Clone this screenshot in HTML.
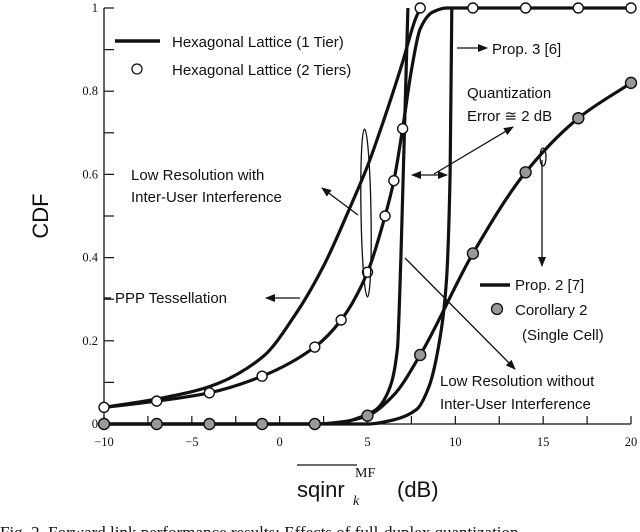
<!DOCTYPE html>
<html><head><meta charset="utf-8"><style>
html,body{margin:0;padding:0;background:#fff;}
body{width:640px;height:532px;overflow:hidden;position:relative;}
svg{position:absolute;left:0;top:0;}
.s{font-family:"Liberation Sans",sans-serif;font-size:15px;fill:#111;}
.t{font-family:"Liberation Serif",serif;font-size:12.5px;fill:#111;}
</style></head><body>
<svg id="chart" width="640" height="532" viewBox="0 0 640 532">
<defs><marker id="ah" markerWidth="10" markerHeight="8" refX="9" refY="4" orient="auto" markerUnits="userSpaceOnUse"><path d="M0,0 L10,4 L0,8 Z" fill="#111"/></marker>
<marker id="ahs" markerWidth="10" markerHeight="8" refX="1" refY="4" orient="auto" markerUnits="userSpaceOnUse"><path d="M10,0 L0,4 L10,8 Z" fill="#111"/></marker></defs>
<g id="axes"></g>
<g id="series"></g>
<g stroke="#111" stroke-width="1.3" fill="none">
<line x1="115" y1="41" x2="160" y2="41" stroke-width="3.5"/>
<circle cx="137" cy="69" r="5" fill="#fff"/>
<line x1="457" y1="48" x2="487" y2="48" marker-end="url(#ah)"/>
<line x1="434" y1="174" x2="513" y2="127" marker-end="url(#ah)"/>
<line x1="412" y1="175" x2="447" y2="175" marker-start="url(#ahs)" marker-end="url(#ah)"/>
<ellipse cx="366" cy="213" rx="5" ry="84" transform="rotate(-1 366 213)"/>
<line x1="358" y1="215" x2="322" y2="188" marker-end="url(#ah)"/>
<line x1="405" y1="258" x2="515" y2="369" marker-end="url(#ah)"/>
<line x1="300" y1="298" x2="266" y2="298" marker-end="url(#ah)"/>
<line x1="104" y1="298" x2="111" y2="298"/>
<ellipse cx="543" cy="157" rx="3" ry="9"/>
<line x1="542" y1="160" x2="542" y2="266" marker-end="url(#ah)"/>
<line x1="480" y1="285" x2="510" y2="285" stroke-width="3.5"/>
<circle cx="497" cy="309" r="5.5" fill="#999"/>
</g>
<g>
<text class="s" x="172" y="47">Hexagonal Lattice (1 Tier)</text>
<text class="s" x="172" y="75">Hexagonal Lattice (2 Tiers)</text>
<text class="s" x="492" y="54">Prop. 3 [6]</text>
<text class="s" x="467" y="98">Quantization</text>
<text class="s" x="467" y="121">Error ≅ 2 dB</text>
<text class="s" x="131" y="180">Low Resolution with</text>
<text class="s" x="131" y="202">Inter-User Interference</text>
<text class="s" x="115" y="303">PPP Tessellation</text>
<text class="s" x="515" y="290">Prop. 2 [7]</text>
<text class="s" x="515" y="315">Corollary 2</text>
<text class="s" x="522" y="340">(Single Cell)</text>
<text class="s" x="440" y="386">Low Resolution without</text>
<text class="s" x="440" y="409">Inter-User Interference</text>
<text x="0" y="0" transform="translate(48,216) rotate(-90)" text-anchor="middle" style="font-family:'Liberation Sans',sans-serif;font-size:22px;fill:#111">CDF</text>
<g>
<line x1="297" y1="465" x2="357" y2="465" stroke="#111" stroke-width="1.2"/>
<text x="297" y="497" style="font-family:'Liberation Sans',sans-serif;font-size:22px;fill:#111">sqinr</text>
<text x="353" y="505" style="font-family:'Liberation Serif',serif;font-style:italic;font-size:14px;fill:#111">k</text>
<text x="355" y="477" style="font-family:'Liberation Serif',serif;font-size:14px;fill:#111">MF</text>
<text x="397" y="497" style="font-family:'Liberation Sans',sans-serif;font-size:22px;fill:#111">(dB)</text>
</g>
<text x="0" y="538" style="font-family:'Liberation Serif',serif;font-size:17px;fill:#111">Fig. 2.  Forward link performance results: Effects of full-duplex quantization</text>
</g>
</svg>
<script>
const xTicks=[-10,-5,0,5,10,15,20];
const yTicks=[0,0.2,0.4,0.6,0.8,1];
const yTickLabels=["0","0.2","0.4","0.6","0.8","1"];
const pppX=[-10,-7,-4,-1,1,2.5,4,5,6,7,7.7,8];
const pppV=[0.04,0.06,0.09,0.16,0.27,0.38,0.52,0.62,0.74,0.87,0.97,1];
const hexX=[-10,-7,-4,-1,2,3.5,5,6,6.5,7,7.5,8,8.7,9.5,20];
const hexV=[0.04,0.055,0.075,0.115,0.185,0.25,0.365,0.5,0.585,0.71,0.85,0.95,0.99,1,1];
const lowResX=[-10,2,3.5,4.5,5.5,6.2,6.7,6.9,7.1,7.3];
const lowResV=[0,0,0.003,0.015,0.035,0.08,0.18,0.4,0.7,1];
const prop3X=[-10,5,6.5,7.8,8.5,9.1,9.5,9.7,9.8];
const prop3V=[0,0,0.01,0.035,0.09,0.2,0.35,0.6,1];
const prop2X=[-10,2,3.5,5,6.5,8,11,14,17,20];
const prop2V=[0,0,0.005,0.02,0.07,0.166,0.41,0.605,0.735,0.82];
const tierX=[-10,-7,-4,-1,2,3.5,5,6,6.5,7,8,11,14,17,20];
const tierV=[0.04,0.055,0.075,0.115,0.185,0.25,0.365,0.5,0.585,0.71,1,1,1,1,1];
const corX=[-10,-7,-4,-1,2,5,8,11,14,17,20];
const corV=[0,0,0,0,0,0.02,0.166,0.41,0.605,0.735,0.82];

const NS="http://www.w3.org/2000/svg";
const xs=d=>104+(d+10)*527/30;
const ys=v=>424-v*416;
function mk(tag,attrs,parent){const e=document.createElementNS(NS,tag);for(const k in attrs)e.setAttribute(k,attrs[k]);parent.appendChild(e);return e;}
const ax=document.getElementById('axes');
let e=mk('line',{x1:104,y1:ys(1),x2:104,y2:424,stroke:'#111','stroke-width':1.3},ax);


e=mk('line',{x1:104,y1:424,x2:631,y2:424,stroke:'#111','stroke-width':1.3},ax);


for(let v=0;v<=10;v++){const y=ys(v/10);
 e=mk('line',{x1:104,y1:y,x2:114,y2:y,stroke:'#111','stroke-width':1.2},ax);
 
 }
yTicks.forEach((v,i)=>{e=mk('text',{x:98,y:ys(v)+4,'text-anchor':'end',class:'t'},ax);e.textContent=yTickLabels[i];
 
 });
for(let d=-10;d<=20;d+=2.5){const x=xs(d);
 e=mk('line',{x1:x,y1:424,x2:x,y2:416,stroke:'#111','stroke-width':1.2},ax);
 
 }
xTicks.forEach(d=>{e=mk('text',{x:xs(d),y:446,'text-anchor':'middle',class:'t'},ax);e.textContent=(d<0?'\u2212'+(-d):String(d));
 
 });
// monotone cubic (Fritsch-Carlson) path in pixel space
function monoPath(P){const n=P.length;if(n<2)return '';
 const dx=[],dy=[],m=[];for(let i=0;i<n-1;i++){dx.push(P[i+1][0]-P[i][0]);dy.push(P[i+1][1]-P[i][1]);m.push(dy[i]/dx[i]);}
 const t=[m[0]];for(let i=1;i<n-1;i++){if(m[i-1]*m[i]<=0)t.push(0);else{const w1=2*dx[i]+dx[i-1],w2=dx[i]+2*dx[i-1];t.push((w1+w2)/(w1/m[i-1]+w2/m[i]));}}
 t.push(m[n-2]);
 let d='M'+P[0][0].toFixed(1)+','+P[0][1].toFixed(1);
 for(let i=0;i<n-1;i++){const h=dx[i]/3;d+=' C'+(P[i][0]+h).toFixed(1)+','+(P[i][1]+t[i]*h).toFixed(1)+' '+(P[i+1][0]-h).toFixed(1)+','+(P[i+1][1]-t[i+1]*h).toFixed(1)+' '+P[i+1][0].toFixed(1)+','+P[i+1][1].toFixed(1);}
 return d;}
const sg=document.getElementById('series');
function line(X,V,name){const P=X.map((d,i)=>[xs(d),ys(V[i])]);
 const l=mk('path',{d:monoPath(P),fill:'none',stroke:'#111','stroke-width':3.2,'stroke-linejoin':'round'},sg);
 
 }
line(pppX,pppV,'ppp-tessellation-line');
line(hexX,hexV,'hexagonal-1-tier-line');
line(lowResX,lowResV,'low-res-without-interference-line');
line(prop3X,prop3V,'prop3-line');
line(prop2X,prop2V,'prop2-line');
tierX.forEach((d,i)=>{const c=mk('circle',{cx:xs(d),cy:ys(tierV[i]),r:5,fill:'#fff',stroke:'#111','stroke-width':1.4},sg);
 
 });
corX.forEach((d,i)=>{const c=mk('circle',{cx:xs(d),cy:ys(corV[i]),r:5.5,fill:'#999',stroke:'#111','stroke-width':1.4},sg);
 
 });
</script>
</body></html>
